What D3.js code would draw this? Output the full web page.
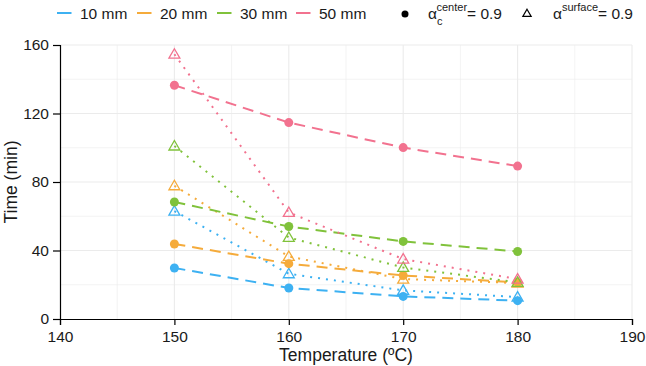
<!DOCTYPE html>
<html>
<head>
<meta charset="utf-8">
<script src="https://cdn.jsdelivr.net/npm/d3@7"></script>
<style>
  body { margin: 0; background: #fff; }
  text { font-family: "Liberation Sans", Arial, sans-serif; fill: #1a1a1a; }
</style>
</head>
<body>
<svg id="chart"></svg>
<script>
// chart size
const width = 646;
const height = 366;

// data
const temps = [150, 160, 170, 180];
const sizes = ["10 mm", "20 mm", "30 mm", "50 mm"];
const colors = ["#3db1f2", "#f5ab3b", "#80c23b", "#f2728f"];
const centerTimes = [
    [29.8, 18.1, 13.2, 10.7],
    [43.8, 32.3, 25.4, 21.3],
    [68.3, 54.0, 45.3, 39.4],
    [136.5, 114.7, 100.1, 89.3]
];
const surfaceTimes = [
    [63.0, 26.4, 16.7, 12.8],
    [77.8, 36.5, 23.3, 21.0],
    [101.0, 47.6, 30.1, 21.4],
    [154.6, 62.2, 35.0, 23.3]
];
const xTicks = [140, 150, 160, 170, 180, 190];
const yTicks = [0, 40, 80, 120, 160];

const margin = { left: 60, right: 14, top: 45, bottom: 47 };

const svg = d3.select("#chart")
    .attr("width", width)
    .attr("height", height);

const x = d3.scaleLinear().domain([140, 190]).range([margin.left, width - margin.right]);
const y = d3.scaleLinear().domain([0, 160]).range([height - margin.bottom, margin.top]);

// grid lines (major + minor)
const grid = svg.append("g");
d3.range(145, 191, 5).forEach(v => {
    grid.append("line")
        .attr("x1", x(v)).attr("x2", x(v))
        .attr("y1", y(0)).attr("y2", y(160))
        .attr("stroke", "#ebebeb")
        .attr("stroke-width", v % 10 === 0 ? 1.1 : 0.6);
});
d3.range(20, 161, 20).forEach(v => {
    grid.append("line")
        .attr("x1", x(140)).attr("x2", x(190))
        .attr("y1", y(v)).attr("y2", y(v))
        .attr("stroke", "#ebebeb")
        .attr("stroke-width", v % 40 === 0 ? 1.1 : 0.6);
});

// axes
const xAxis = svg.append("g")
    .attr("transform", `translate(0,${y(0)})`)
    .call(d3.axisBottom(x).tickValues(xTicks).tickSize(6).tickPadding(6));
const yAxis = svg.append("g")
    .attr("transform", `translate(${x(140)},0)`)
    .call(d3.axisLeft(y).tickValues(yTicks).tickSize(7).tickPadding(4));
[xAxis, yAxis].forEach(a => {
    a.select(".domain").attr("stroke", "#000").attr("stroke-width", 1.2);
    a.selectAll(".tick line").attr("stroke", "#000").attr("stroke-width", 1.2);
    a.selectAll(".tick text")
        .style("font-family", "'Liberation Sans', Arial, sans-serif")
        .style("font-size", "15.5px")
        .attr("fill", "#1a1a1a");
});

// axis titles
svg.append("text")
    .attr("x", (x(140) + x(190)) / 2)
    .attr("y", 361)
    .attr("text-anchor", "middle")
    .style("font-size", "17.5px")
    .text("Temperature (ºC)");
svg.append("text")
    .attr("transform", `translate(17,${(y(0) + y(160)) / 2}) rotate(-90)`)
    .attr("text-anchor", "middle")
    .style("font-size", "17.5px")
    .text("Time (min)");

const line = d3.line()
    .x((d, i) => x(temps[i]))
    .y(d => y(d));

// surface (dotted) and center (dashed) lines
sizes.forEach((s, k) => {
    svg.append("path")
        .datum(surfaceTimes[k])
        .attr("d", line)
        .attr("fill", "none")
        .attr("stroke", colors[k])
        .attr("stroke-width", 2)
        .attr("stroke-dasharray", "2,6");
    svg.append("path")
        .datum(centerTimes[k])
        .attr("d", line)
        .attr("fill", "none")
        .attr("stroke", colors[k])
        .attr("stroke-width", 2)
        .attr("stroke-dasharray", "11,7");
});

// points
const tri = d3.symbol().type(d3.symbolTriangle).size(52);
sizes.forEach((s, k) => {
    svg.selectAll(null)
        .data(centerTimes[k])
        .enter().append("circle")
        .attr("cx", (d, i) => x(temps[i]))
        .attr("cy", d => y(d))
        .attr("r", 4.5)
        .attr("fill", colors[k]);
    svg.selectAll(null)
        .data(surfaceTimes[k])
        .enter().append("path")
        .attr("d", tri)
        .attr("transform", (d, i) => `translate(${x(temps[i])},${y(d) + 0.8})`)
        .attr("fill", "none")
        .attr("stroke", colors[k])
        .attr("stroke-width", 1.3);
});

// legend: sizes
const legX = [57, 137, 217, 296];
sizes.forEach((s, k) => {
    svg.append("line")
        .attr("x1", legX[k]).attr("x2", legX[k] + 14.5)
        .attr("y1", 13).attr("y2", 13)
        .attr("stroke", colors[k])
        .attr("stroke-width", 2);
    svg.append("text")
        .attr("x", legX[k] + 23)
        .attr("y", 19)
        .style("font-size", "15.5px")
        .text(s);
});

// legend: shapes
svg.append("circle")
    .attr("cx", 405).attr("cy", 14).attr("r", 3.5)
    .attr("fill", "#000");
const lc = svg.append("text").attr("x", 428).attr("y", 19).style("font-size", "15.5px");
lc.append("tspan").text("α");
lc.append("tspan").attr("dy", 6).style("font-size", "11px").text("c");
lc.append("tspan").attr("dx", -6).attr("dy", -14).style("font-size", "11px").text("center");
lc.append("tspan").attr("dy", 8).text("= 0.9");

svg.append("path")
    .attr("d", d3.symbol().type(d3.symbolTriangle).size(30))
    .attr("transform", "translate(527,14)")
    .attr("fill", "none")
    .attr("stroke", "#000")
    .attr("stroke-width", 1.2);
const ls = svg.append("text").attr("x", 553).attr("y", 19).style("font-size", "15.5px");
ls.append("tspan").text("α");
ls.append("tspan").attr("dy", -8).style("font-size", "11px").text("surface");
ls.append("tspan").attr("dy", 8).text("= 0.9");
</script>
</body>
</html>
